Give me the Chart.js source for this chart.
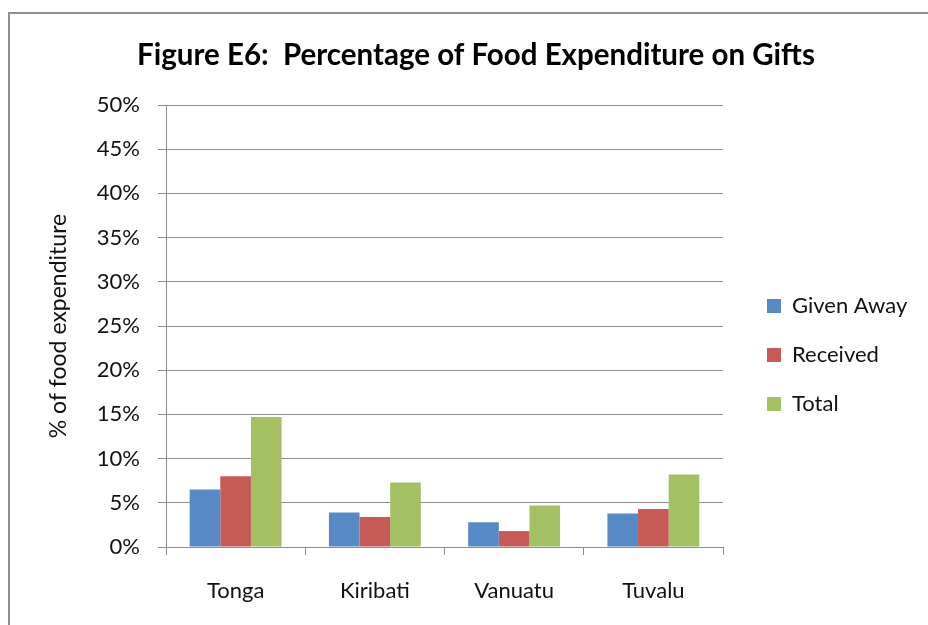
<!DOCTYPE html>
<html>
<head>
<meta charset="utf-8">
<script src="https://cdn.jsdelivr.net/npm/chart.js@4/dist/chart.umd.min.js"></script>
<style>
  html, body { margin: 0; padding: 0; background: #fff; overflow: hidden; }
  #wrap { position: relative; width: 928px; height: 625px; overflow: hidden; }
  #frame { position: absolute; left: 8px; top: 12px; width: 1000px; height: 1000px; border: 2px solid #8f8f8f; }
  canvas { position: absolute; left: 0; top: 0; }
</style>
</head>
<body>
<div id="wrap">
  <div id="frame"></div>
  <canvas id="c" width="928" height="625"></canvas>
</div>
<script>
const categories = ['Tonga', 'Kiribati', 'Vanuatu', 'Tuvalu'];
const givenAway = [6.5, 3.9, 2.8, 3.8];
const received = [8.0, 3.4, 1.8, 4.3];
const total = [14.7, 7.3, 4.7, 8.2];
const seriesNames = ['Given Away', 'Received', 'Total'];
const yTickLabels = ['0%', '5%', '10%', '15%', '20%', '25%', '30%', '35%', '40%', '45%', '50%'];
const chartTitle = 'Figure E6:  Percentage of Food Expenditure on Gifts';
const yAxisTitle = '% of food expenditure';

const FONT = 'Lato';
const legendFontSize = 22;
const legendPad = 27;
const legendBox = 14;

// measure legend width so plot area right edge lands where intended
const mctx = document.createElement('canvas').getContext('2d');
mctx.font = legendFontSize + 'px ' + FONT;
const maxText = Math.max(...seriesNames.map(s => mctx.measureText(s).width));
const legendWidth = legendPad + legendBox + legendFontSize / 2 + maxText;
const plotRight = 723;
const rightPad = Math.max(0, 928 - plotRight - legendWidth - 10);

const moveBlocks = {
  id: 'moveBlocks',
  afterLayout(chart) {
    const lg = chart.legend;
    const w = lg.width, h = lg.height;
    lg.left = 767 - legendPad;
    lg.right = lg.left + w;
    lg.top = 355 - h / 2;
    lg.bottom = lg.top + h;
    const tb = chart.titleBlock;
    if (tb) {
      const cx = (tb.left + tb.right) / 2;
      const dx = 476 - cx;
      tb.left += dx;
      tb.right += dx;
    }
  }
};

new Chart(document.getElementById('c'), {
  type: 'bar',
  data: {
    labels: categories,
    datasets: [
      { label: seriesNames[0], data: givenAway, backgroundColor: '#5689c5' },
      { label: seriesNames[1], data: received, backgroundColor: '#c65a57' },
      { label: seriesNames[2], data: total, backgroundColor: '#a3c163' }
    ]
  },
  options: {
    responsive: false,
    devicePixelRatio: 1,
    animation: false,
    layout: { padding: { left: 9, top: 0, right: rightPad, bottom: 0 } },
    datasets: { bar: { categoryPercentage: 0.66, barPercentage: 1.0 } },
    plugins: {
      title: {
        display: true,
        text: chartTitle,
        color: '#000',
        font: { family: FONT, size: 29.5, weight: 'bold' },
        padding: { top: 37.3, bottom: 32.3 }
      },
      legend: {
        position: 'right',
        labels: {
          font: { family: FONT, size: legendFontSize },
          color: '#111',
          boxWidth: legendBox,
          boxHeight: legendBox,
          padding: legendPad
        }
      },
      tooltip: { enabled: false }
    },
    scales: {
      x: {
        grid: { display: true, drawOnChartArea: false, drawTicks: true, tickLength: 8, offset: true, color: '#8c8c8c' },
        border: { display: true, color: '#8c8c8c' },
        ticks: { font: { family: FONT, size: 22 }, color: '#111', padding: 23 },
        afterFit(s) { s.height = 625 - 547; }
      },
      y: {
        min: 0, max: 50,
        ticks: {
          stepSize: 5,
          font: { family: FONT, size: 22 },
          color: '#111',
          padding: 18,
          callback: (v, i) => yTickLabels[i]
        },
        grid: { color: '#8c8c8c', tickLength: 8 },
        border: { display: true, color: '#8c8c8c' },
        title: {
          display: true,
          text: yAxisTitle,
          color: '#111',
          font: { family: FONT, size: 23 },
          padding: { top: 36.2, bottom: 0 }
        },
        afterFit(s) { s.width = 166 - 9; }
      }
    }
  },
  plugins: [moveBlocks]
});
</script>
</body>
</html>
